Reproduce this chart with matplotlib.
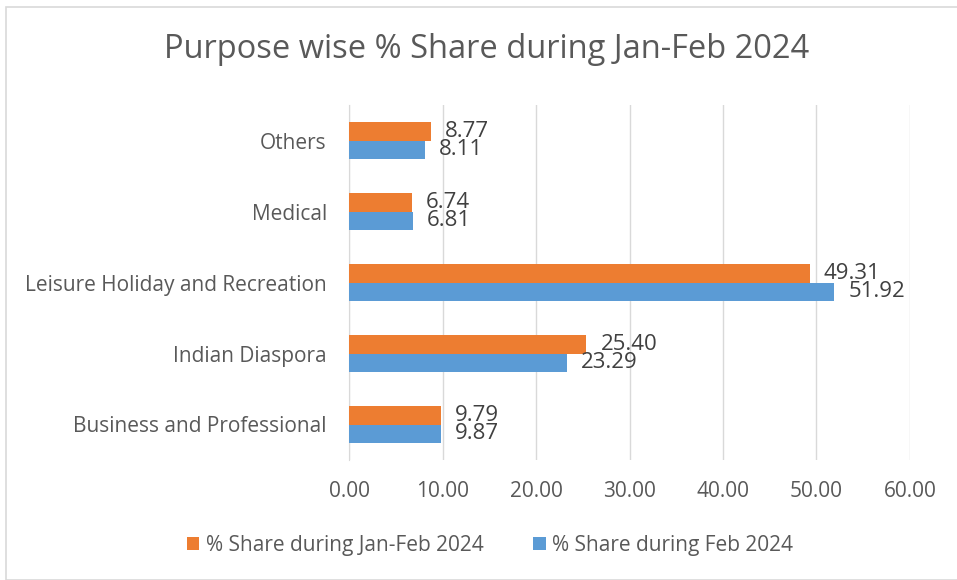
import numpy as np
import matplotlib.pyplot as plt
from matplotlib.patches import Rectangle

plt.rcParams['font.family'] = ['Open Sans', 'DejaVu Sans']

# Data
categories = ["Business and Professional", "Indian Diaspora",
              "Leisure Holiday and Recreation", "Medical", "Others"]
share_jan_feb = [9.79, 25.40, 49.31, 6.74, 8.77]
share_feb = [9.87, 23.29, 51.92, 6.81, 8.11]
series_names = ["% Share during Jan-Feb 2024", "% Share during Feb 2024"]

orange = "#ED7D31"
blue = "#5B9BD5"
text_color = "#595959"

fig = plt.figure(figsize=(9.57, 5.80), dpi=100)
ax = fig.add_axes([349 / 957, 1 - 460 / 580, (910 - 349) / 957, 355 / 580])

# chart border
fig.patches.append(Rectangle((6 / 957, 0), 1, 1 - 7 / 580, transform=fig.transFigure,
                             fill=False, edgecolor="#D9D9D9", linewidth=1.2))

y = np.arange(len(categories))
h = 0.255
b1 = ax.barh(y + h / 2, share_jan_feb, height=h, color=orange, label=series_names[0], zorder=3)
b2 = ax.barh(y - h / 2, share_feb, height=h, color=blue, label=series_names[1], zorder=3)

for bars in (b1, b2):
    for rect in bars:
        w = rect.get_width()
        ax.annotate("{:.2f}".format(w), (w, rect.get_y() + rect.get_height() / 2),
                    xytext=(10, 0), textcoords="offset points", va="center", ha="left",
                    fontsize=16, color="#404040", zorder=4)

ax.set_xlim(0, 60)
ax.set_ylim(-0.5, len(categories) - 0.5)
ax.set_xticks(np.arange(0, 61, 10))
ax.set_xticklabels(["{:.2f}".format(v) for v in np.arange(0, 61, 10)])
ax.set_yticks(y)
ax.set_yticklabels(categories)
ax.tick_params(axis="both", length=0, labelsize=15, colors=text_color)
ax.tick_params(axis="x", pad=15)
ax.tick_params(axis="y", pad=16)
ax.grid(axis="x", color="#D9D9D9", linewidth=1, zorder=0)
for s in ["top", "right", "bottom"]:
    ax.spines[s].set_visible(False)
ax.spines["left"].set_color("#D9D9D9")

fig.suptitle("Purpose wise % Share during Jan-Feb 2024", x=487 / 957, y=1 - 50 / 580,
             va="center", fontsize=23.5, color=text_color)

fig.legend(handles=[b1, b2], loc="center", bbox_to_anchor=(490 / 957, 1 - 545 / 580),
           ncol=2, frameon=False, fontsize=15, labelcolor=text_color,
           handlelength=0.6, handleheight=0.6, handletextpad=0.3, columnspacing=2.4)

fig.savefig("out.png", dpi=100)
